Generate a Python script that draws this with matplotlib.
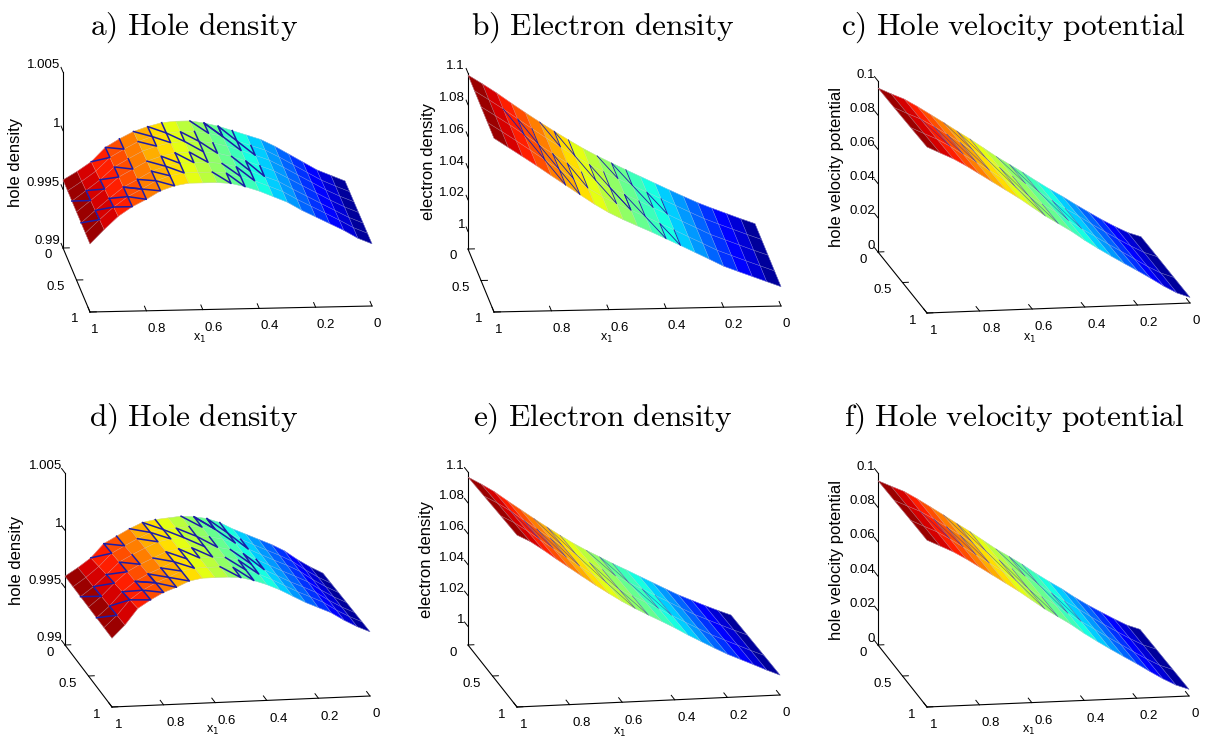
import numpy as np
import matplotlib
matplotlib.use('Agg')
import matplotlib.pyplot as plt

W_PX, H_PX = 1219, 742
plt.rcParams['font.family'] = ['Liberation Sans', 'DejaVu Sans']

# --- grid ---
x1 = [0, .05, .1, .15, .2, .25, .3, .35, .4, .45, .5, .55, .6, .65, .7, .75, .8, .85, .9, .95, 1]
x2_hole = [0, .17, .33, .5, .67, .83, 1]
x2_electron = [0, .25, .5, .75, 1]
x2_coarse = [0, .33, .67, 1]

# --- surfaces: one row per x2, one column per x1 ---
hole_a = [
    [.9952, .9957, .9962, .9969, .9976, .9983, .9989, .9993, .9997, 1.0001, 1.0004, 1.0006, 1.0006, 1.0005, 1.0002, .9998, .9992, .9985, .9973, .9965, .9958],
    [.99522, .99572, .99625, .99693, .99762, .9983, .99892, .99933, .99975, 1.00015, 1.00045, 1.00063, 1.00063, 1.00055, 1.00027, .99987, .99925, .99857, .99743, .99658, .9958],
    [.99523, .99573, .9963, .99697, .99763, .9983, .99893, .99937, .9998, 1.0002, 1.0005, 1.00067, 1.00067, 1.0006, 1.00033, .99993, .9993, .99863, .99757, .99667, .9958],
    [.99525, .99575, .99635, .9970, .99765, .9983, .99895, .9994, .99985, 1.00025, 1.00055, 1.0007, 1.0007, 1.00065, 1.0004, 1.0000, .99935, .9987, .9977, .99675, .9958],
    [.99527, .99577, .9964, .99703, .99767, .9983, .99897, .99943, .9999, 1.0003, 1.0006, 1.00073, 1.00073, 1.0007, 1.00047, 1.00007, .9994, .99877, .99783, .99683, .9958],
    [.99528, .99578, .99645, .99707, .99768, .9983, .99898, .99947, .99995, 1.00035, 1.00065, 1.00077, 1.00077, 1.00075, 1.00053, 1.00013, .99945, .99883, .99797, .99692, .9958],
    [.9953, .9958, .9965, .9971, .9977, .9983, .9990, .9995, 1.0000, 1.0004, 1.0007, 1.0008, 1.0008, 1.0008, 1.0006, 1.0002, .9995, .9989, .9981, .9970, .9958],
]
electron_b = [
    [1.0012, 1.0045, 1.0080, 1.0115, 1.0152, 1.0194, 1.0237, 1.0281, 1.0325, 1.0369, 1.0414, 1.0460, 1.0510, 1.0565, 1.0622, 1.0681, 1.0742, 1.0805, 1.0870, 1.0930, 1.0987],
    [1.0012, 1.0045, 1.0080, 1.0115, 1.0151, 1.0194, 1.0238, 1.0282, 1.0326, 1.0370, 1.0414, 1.0459, 1.0508, 1.0563, 1.0621, 1.0680, 1.0742, 1.0805, 1.0869, 1.0929, 1.0987],
    [1.0012, 1.0045, 1.0080, 1.0115, 1.0150, 1.0194, 1.0238, 1.0283, 1.0327, 1.0371, 1.0414, 1.0458, 1.0506, 1.0561, 1.0620, 1.0680, 1.0742, 1.0805, 1.0868, 1.0928, 1.0986],
    [1.0012, 1.0046, 1.0080, 1.0115, 1.0150, 1.0195, 1.0239, 1.0284, 1.0328, 1.0372, 1.0414, 1.0457, 1.0504, 1.0559, 1.0619, 1.0680, 1.0742, 1.0805, 1.0867, 1.0927, 1.0986],
    [1.0012, 1.0046, 1.0080, 1.0114, 1.0149, 1.0195, 1.0240, 1.0285, 1.0329, 1.0373, 1.0414, 1.0456, 1.0502, 1.0557, 1.0618, 1.0680, 1.0742, 1.0805, 1.0866, 1.0926, 1.0986],
]
velocity_c = [
    [.0031, .0058, .0097, .0140, .0187, .0235, .0285, .0332, .0382, .0434, .0483, .0532, .0586, .0640, .0690, .0742, .0792, .0842, .0888, .0922, .0959],
    [.0032, .0060, .0100, .0145, .0191, .0238, .0288, .0335, .0385, .0438, .0488, .0535, .0590, .0645, .0695, .0745, .0795, .0845, .0890, .0925, .0962],
    [.0032, .0061, .0102, .0149, .0196, .0242, .0290, .0337, .0387, .0442, .0490, .0538, .0593, .0648, .0698, .0748, .0798, .0848, .0893, .0929, .0966],
    [.0033, .0062, .0105, .0154, .0201, .0246, .0292, .0340, .0390, .0445, .0493, .0541, .0596, .0651, .0701, .0751, .0801, .0851, .0896, .0933, .0971],
]
hole_d = [
    [.9953, .9959, .9966, .9974, .9980, .9985, .9990, .9995, 1.0001, 1.0005, 1.0007, 1.0008, 1.0007, 1.0006, 1.0004, .9999, .9993, .9987, .9975, .9967, .9960],
    [.99535, .99593, .99662, .9974, .99798, .99848, .9990, .99952, 1.0001, 1.0005, 1.00072, 1.00082, 1.00073, 1.00065, 1.00045, .99995, .99938, .99878, .99767, .99677, .9960],
    [.9954, .99597, .99663, .9974, .99797, .99847, .9990, .99953, 1.0001, 1.0005, 1.00073, 1.00083, 1.00077, 1.0007, 1.0005, 1.0000, .99947, .99887, .99783, .99683, .9960],
    [.99545, .996, .99665, .9974, .99795, .99845, .9990, .99955, 1.0001, 1.0005, 1.00075, 1.00085, 1.0008, 1.00075, 1.00055, 1.00005, .99955, .99895, .998, .9969, .9960],
    [.9955, .99603, .99667, .9974, .99793, .99843, .9990, .99957, 1.0001, 1.0005, 1.00077, 1.00087, 1.00083, 1.0008, 1.0006, 1.0001, .99963, .99903, .99817, .99697, .9960],
    [.99555, .99607, .99668, .9974, .99792, .99842, .9990, .99958, 1.0001, 1.0005, 1.00078, 1.00088, 1.00087, 1.00085, 1.00065, 1.00015, .99972, .99912, .99833, .99703, .9960],
    [.9956, .9961, .9967, .9974, .9979, .9984, .9990, .9996, 1.0001, 1.0005, 1.0008, 1.0009, 1.0009, 1.0009, 1.0007, 1.0002, .9998, .9992, .9985, .9971, .9960],
]
electron_e = [
    [.9996, 1.0030, 1.0066, 1.0104, 1.0142, 1.0186, 1.0231, 1.0276, 1.0321, 1.0365, 1.0412, 1.0458, 1.0508, 1.0563, 1.0621, 1.0680, 1.0741, 1.0802, 1.0865, 1.0918, 1.0967],
    [1.0000, 1.0035, 1.0072, 1.0110, 1.0148, 1.0192, 1.0238, 1.0284, 1.0330, 1.0374, 1.0420, 1.0466, 1.0516, 1.0571, 1.0628, 1.0688, 1.0749, 1.0810, 1.0873, 1.0928, 1.0976],
    [1.0005, 1.0040, 1.0078, 1.0116, 1.0154, 1.0198, 1.0244, 1.0290, 1.0338, 1.0384, 1.0428, 1.0474, 1.0524, 1.0579, 1.0636, 1.0696, 1.0757, 1.0818, 1.0881, 1.0938, 1.0985],
    [1.0009, 1.0045, 1.0084, 1.0122, 1.0160, 1.0204, 1.0250, 1.0296, 1.0346, 1.0392, 1.0436, 1.0482, 1.0532, 1.0587, 1.0644, 1.0704, 1.0765, 1.0826, 1.0889, 1.0948, 1.0993],
]
velocity_f = [
    [.0027, .0055, .0095, .0138, .0182, .0230, .0283, .0330, .0380, .0434, .0483, .0530, .0584, .0638, .0688, .0740, .0790, .0840, .0886, .0920, .0955],
    [.0031, .0059, .0099, .0143, .0188, .0236, .0287, .0334, .0384, .0438, .0487, .0534, .0589, .0643, .0693, .0744, .0794, .0844, .0889, .0924, .0960],
    [.0035, .0063, .0103, .0148, .0195, .0241, .0290, .0337, .0387, .0442, .0490, .0538, .0593, .0648, .0698, .0748, .0798, .0848, .0893, .0929, .0966],
    [.0039, .0067, .0107, .0153, .0201, .0246, .0292, .0340, .0390, .0445, .0493, .0541, .0596, .0651, .0701, .0751, .0801, .0851, .0896, .0933, .0970],
]

# --- dark mesh strokes on the surface: (column, row) of each W, two grid cells wide ---
zigzag_hole = [(13, 0), (13, 1), (13, 3), (13, 4), (14, 5), (16, 0), (18, 2), (16, 2), (16, 4), (15, 4), (16, 5),
               (18, 4), (11, 1), (11, 3), (9, 0), (7, 1), (7, 3), (8, 4), (9, 5), (8, 0), (10, 2)]
zigzag_thin = [(13, 0), (13, 2), (14, 3), (11, 1), (9, 0), (9, 2), (7, 1), (7, 3), (16, 1), (15, 2), (10, 2)]
zigzag_faint = [(13, 0), (14, 1), (11, 1), (9, 0), (7, 1), (16, 1), (10, 2)]

# --- axis ticks ---
x_ticks = [0, .2, .4, .6, .8, 1]
x_labels = ['0', '0.2', '0.4', '0.6', '0.8', '1']
y_ticks = [0, .5, 1]
y_labels = ['0', '0.5', '1']
hole_ticks = [.99, .995, 1, 1.005]
hole_labels = ['0.99', '0.995', '1', '1.005']
electron_ticks = [1, 1.02, 1.04, 1.06, 1.08, 1.1]
electron_labels = ['1', '1.02', '1.04', '1.06', '1.08', '1.1']
velocity_ticks = [0, .02, .04, .06, .08, .1]
velocity_labels = ['0', '0.02', '0.04', '0.06', '0.08', '0.1']


def fit_view(O, A, B, T):
    """Orthographic view and box aspect from the pixel corners of the axes box."""
    xv = np.array([A[0] - B[0], B[1] - A[1]], float)   # x1 0->1, y up
    yv = np.array([A[0] - O[0], O[1] - A[1]], float)   # x2 0->1, y up
    zv = O[1] - T[1]
    r1 = abs(xv[1] / xv[0])
    r2 = abs(yv[1] / yv[0])
    s_el = np.sqrt(r1 * r2)
    az = np.arctan(r2 / s_el)
    el = np.arcsin(s_el)
    aspect = (abs(xv[0]) / np.sin(az), abs(yv[0]) / np.cos(az), zv / np.cos(el))
    return np.degrees(el), np.degrees(az), aspect


def place_axes(ax, corners3d, corners_px):
    """Size and shift the square axes so the projected box lands on the pixel corners."""
    M = ax.get_proj()
    vl = ax.viewLim
    rows, rhs = [], []
    for p, px in zip(corners3d, corners_px):
        v = M @ np.array([p[0], p[1], p[2], 1.0])
        u0 = (v[0] / v[3] - vl.x0) / (vl.x1 - vl.x0)
        v0 = (v[1] / v[3] - vl.y0) / (vl.y1 - vl.y0)
        rows.append([u0, 1, 0]); rhs.append(px[0])
        rows.append([v0, 0, 1]); rhs.append(H_PX - px[1])
    w, left, bottom = np.linalg.lstsq(np.array(rows), np.array(rhs), rcond=None)[0]
    ax.set_position([left / W_PX, bottom / H_PX, w / W_PX, w / H_PX])


def fig_text(fig, xy, s, **kw):
    return fig.text(xy[0] / W_PX, 1 - xy[1] / H_PX, s, ha='center', va='center', **kw)


def draw_panel(fig, z, x2, zlim, zticks, zlabels, zname, corners, title, title_xy,
               zname_xy, xname_xy, zigzag=(), zig_lw=1.0, zig_alpha=1.0):
    O, A, B, T = corners
    elev, azim, aspect = fit_view(O, A, B, T)
    ax = fig.add_axes([0, 0, .3, .3], projection='3d', proj_type='ortho', computed_zorder=False)
    ax.view_init(elev=elev, azim=azim)
    ax.set_box_aspect(aspect)
    ax.set_xlim(0, 1, view_margin=0)
    ax.set_ylim(0, 1, view_margin=0)
    ax.set_zlim(zlim[0], zlim[1], view_margin=0)
    ax.patch.set_alpha(0)

    X, Y = np.meshgrid(x1, x2)
    Z = np.array(z)
    ax.plot_surface(X, Y, Z, rstride=1, cstride=1, facecolors=plt.cm.jet(X + .025),
                    shade=False, linewidth=.3, antialiased=True, zorder=1)
    ax.plot_wireframe(X, Y, Z, rstride=1, cstride=1, color='#c4c4d8', lw=.35, alpha=.6, zorder=2)

    # dark W strokes of the mesh
    for col, row in zigzag:
        cols = [col, col, col + 1, col + 1, col + 2]
        rows = [row, row + 1, row, row + 1, row]
        ax.plot(X[rows, cols], Y[rows, cols], Z[rows, cols], color='#1c1ca8', lw=zig_lw,
                alpha=zig_alpha, zorder=3)

    ax.grid(False)
    for axis, tick_len in ((ax.xaxis, .9), (ax.yaxis, .28), (ax.zaxis, .9)):
        axis.set_pane_color((1, 1, 1, 0))
        axis.pane.set_edgecolor((1, 1, 1, 0))
        axis.line.set_color('k')
        axis.line.set_linewidth(.8)
        axis._axinfo['tick']['inward_factor'] = 0
        axis._axinfo['tick']['outward_factor'] = tick_len
        axis._axinfo['tick']['linewidth'] = {True: .7, False: .7}
    ax.zaxis._get_tickdir = lambda position: 1   # z ticks point along x2, as in the original

    ax.set_xticks(x_ticks, x_labels)
    ax.set_yticks(y_ticks, y_labels)
    ax.set_zticks(zticks, zlabels)
    ax.tick_params(axis='x', labelsize=9.5, pad=0)
    ax.tick_params(axis='y', labelsize=9.5, pad=-1.5)
    ax.tick_params(axis='z', labelsize=9.5, pad=-6.5)
    for lab in ax.get_xticklabels():
        lab.set_ha('left')
    for lab in ax.get_yticklabels():
        lab.set_ha('right')
        lab.set_va('center')
    for lab in ax.get_zticklabels():
        lab.set_ha('right')
        lab.set_va('bottom')
    ax.zaxis.set_ticks_position('lower')

    place_axes(ax, [(1, 0, zlim[0]), (1, 1, zlim[0]), (0, 1, zlim[0]), (1, 0, zlim[1])], corners)
    fig_text(fig, title_xy, title, fontsize=22.6, math_fontfamily='cm')
    fig_text(fig, zname_xy, zname, fontsize=12, rotation=90)
    fig_text(fig, xname_xy, r'x$_{1}$', fontsize=9, math_fontfamily='dejavusans')
    return ax


fig = plt.figure(figsize=(W_PX / 100, H_PX / 100), dpi=100)

draw_panel(fig, hole_a, x2_hole, (.99, 1.005), hole_ticks, hole_labels, 'hole density',
           [(63, 248), (90, 312), (372, 306), (63, 72)],
           r'$\mathrm{a)\ Hole\ density}$', (194, 28), (16, 162), (200, 338),
           zigzag_hole, 1.1)
draw_panel(fig, electron_b, x2_electron, (.989, 1.1), electron_ticks, electron_labels, 'electron density',
           [(468, 249), (494, 312), (781, 306), (468, 73)],
           r'$\mathrm{b)\ Electron\ density}$', (603, 28), (429, 162), (607, 338),
           zigzag_thin, .6)
draw_panel(fig, velocity_c, x2_coarse, (0, .1), velocity_ticks, velocity_labels, 'hole velocity potential',
           [(878, 252), (927, 313), (1190, 303), (878, 81)],
           r'$\mathrm{c)\ Hole\ velocity\ potential}$', (1014, 28), (836, 167), (1030, 338),
           zigzag_faint, .35, .7)
draw_panel(fig, hole_d, x2_hole, (.99, 1.005), hole_ticks, hole_labels, 'hole density',
           [(65, 645), (112, 707), (370, 696), (65, 473)],
           r'$\mathrm{d)\ Hole\ density}$', (194, 419), (17, 560), (213, 730),
           zigzag_hole, 1.1)
draw_panel(fig, electron_e, x2_coarse, (.988, 1.1), electron_ticks, electron_labels, 'electron density',
           [(468, 645), (517, 707), (780, 695), (468, 472)],
           r'$\mathrm{e)\ Electron\ density}$', (603, 419), (427, 560), (620, 732),
           zigzag_faint, .35, .7)
draw_panel(fig, velocity_f, x2_coarse, (0, .1), velocity_ticks, velocity_labels, 'hole velocity potential',
           [(878, 645), (927, 707), (1189, 696), (878, 473)],
           r'$\mathrm{f)\ Hole\ velocity\ potential}$', (1014, 419), (837, 560), (1029, 730),
           zigzag_faint, .35, .7)

fig.savefig('out.png', dpi=100)
